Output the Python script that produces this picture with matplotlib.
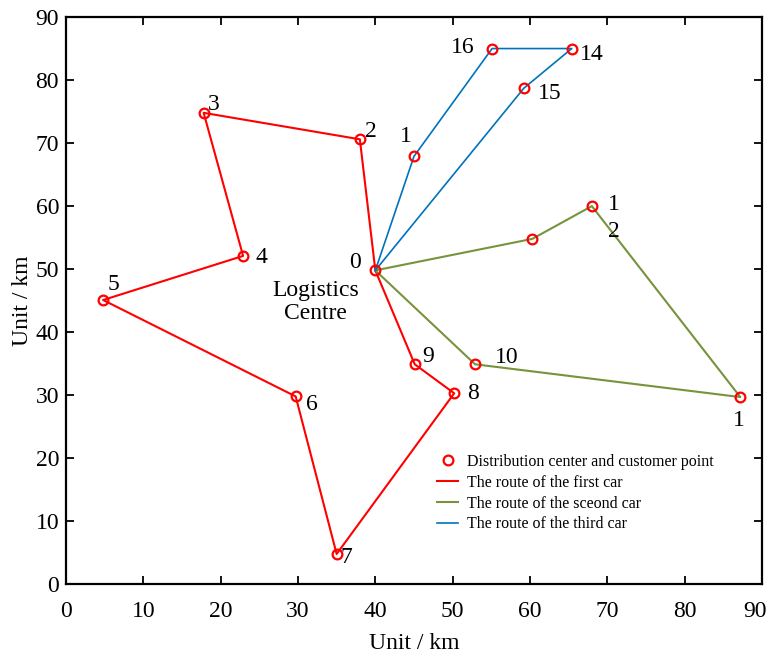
import numpy as np
import matplotlib
matplotlib.use('Agg')
import matplotlib.pyplot as plt
import matplotlib.transforms as mtransforms

plt.rcParams['font.family'] = ['Liberation Serif', 'DejaVu Serif']
plt.rcParams['mathtext.fontset'] = 'stix'

# depot
depot = (40.0, 49.8)

# route of each car (customer points, in visiting order)
car1_x = [38.0, 17.8, 22.9, 4.8, 29.7, 35.0, 50.2, 45.1]
car1_y = [70.6, 74.8, 52.1, 45.1, 29.8, 4.8, 30.3, 34.9]
car1_lab = ['2', '3', '4', '5', '6', '7', '8', '9']

car2_x = [60.3, 68.0, 87.2, 52.9]
car2_y = [54.8, 60.0, 29.7, 34.9]
car2_lab = ['', '1\n2', '1', '10']

car3_x = [45.0, 55.1, 65.4, 59.2]
car3_y = [67.9, 85.0, 85.0, 78.7]
car3_lab = ['1', '16', '14', '15']

# label offsets (data units)
off1 = [(1.4, 1.3), (1.3, 1.4), (2.4, -0.2), (1.3, 2.4), (2.1, -1.2), (1.3, -0.5), (2.4, -0.1), (1.7, 1.3)]
off2 = [(0, 0), (2.8, -1.9), (-0.2, -3.7), (4.1, 1.0)]
off3 = [(-1.0, 3.2), (-3.8, 0.1), (2.6, -0.9), (3.4, -0.8)]

red = '#ff0000'
green = '#77933c'
blue = '#0072bd'

fig = plt.figure(figsize=(7.72, 6.55), dpi=100)
ax = fig.add_axes([0.0855, 0.108, 0.9015, 0.866])

def route(xs, ys):
    return [depot[0]] + xs + [depot[0]], [depot[1]] + ys + [depot[1]]

rx, ry = route(car1_x, car1_y)
gx, gy = route(car2_x, car2_y)
bx, by = route(car3_x, car3_y)

all_x = [depot[0]] + car1_x + car2_x + car3_x
all_y = [depot[1]] + car1_y + car2_y + car3_y
ax.plot(all_x, all_y, 'o', ls='none', mfc='none', mec=red, ms=7, mew=1.6,
        zorder=5, label='Distribution center and customer point')
ax.plot(rx, ry, color=red, lw=1.5, label='The route of the first car')
ax.plot(gx, gy, color=green, lw=1.5, label='The route of the sceond car')
ax.plot(bx, by, color=blue, lw=1.2, label='The route of the third car')

for xs, ys, labs, offs in [(car1_x, car1_y, car1_lab, off1),
                           (car2_x, car2_y, car2_lab, off2),
                           (car3_x, car3_y, car3_lab, off3)]:
    for x, y, t, (dx, dy) in zip(xs, ys, labs, offs):
        if t:
            ax.text(x + dx, y + dy, t, fontsize=17, ha='center', va='center',
                    linespacing=1.35)

ax.text(depot[0] - 2.6, depot[1] + 1.2, '0', fontsize=17, ha='center', va='center')
ax.text(depot[0] - 7.7, depot[1] - 5.0, 'Logistics\nCentre', fontsize=17,
        ha='center', va='center', linespacing=1.1)

ax.set_xlim(0, 90)
ax.set_ylim(0, 90)
ax.set_xticks(np.arange(0, 91, 10))
ax.set_yticks(np.arange(0, 91, 10))
ax.tick_params(direction='in', top=True, right=True, length=6, width=1.3,
               labelsize=17)
ax.tick_params(axis='x', pad=12)
ax.tick_params(axis='y', pad=5)
for s in ax.spines.values():
    s.set_linewidth(1.6)
ax.set_xlabel('Unit / km', fontsize=17, labelpad=8)
ax.set_ylabel('Unit / km', fontsize=17, labelpad=2)

# pull the last x tick label a little inside the figure
fig.canvas.draw()
last = ax.get_xticklabels()[-1]
last.set_transform(last.get_transform() +
                   mtransforms.ScaledTranslation(-5 / 72, 0, fig.dpi_scale_trans))

ax.legend(loc='upper left', bbox_to_anchor=(0.513, 0.255), frameon=False,
          fontsize=11.5, handlelength=1.3, labelspacing=0.3, handletextpad=0.55)

fig.savefig('out.png', dpi=100)
